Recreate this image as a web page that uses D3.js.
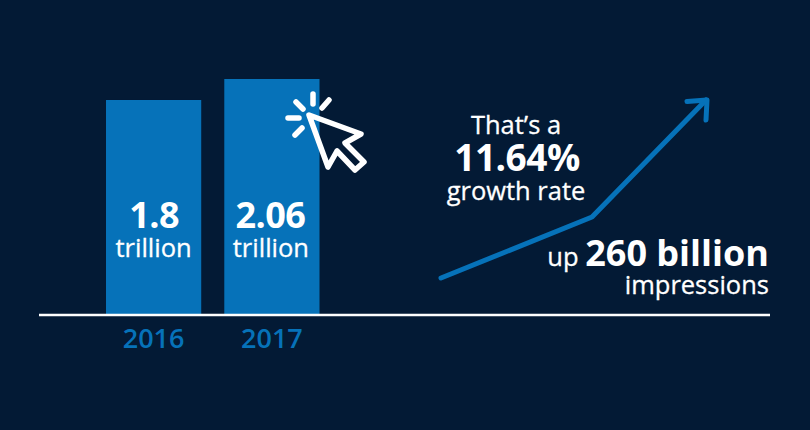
<!DOCTYPE html>
<html>
<head>
<meta charset="utf-8">
<script src="https://cdn.jsdelivr.net/npm/d3@7"></script>
<style>
  html, body { margin: 0; padding: 0; background: #031a35; }
  svg { display: block; }
  text { font-family: "Open Sans", sans-serif; fill: #fff; }
</style>
</head>
<body>
<div id="chart"></div>
<script>
// Data
const years = ['2016', '2017']
const impressions = [1.8, 2.06]
const barLabels = ['1.8', '2.06']
const barUnits = ['trillion', 'trillion']

// growth arrow (arbitrary units)
const trendSteps = [0, 151, 265]
const trendValues = [0, 61, 178]

function draw() {
    const dimension = { width: 810, height: 430 }
    const blue = '#0672b9'

    const svg = d3.select('#chart')
        .append('svg')
        .attr('width', dimension.width)
        .attr('height', dimension.height)

    // Set Scale
    const xScale = d3.scaleBand()
        .domain(years)
        .range([106, 319.5])
        .paddingInner(0.195)
        .paddingOuter(0)

    // the bars in the original don't start from zero, baseline sits around -0.85
    const yScale = d3.scaleLinear()
        .domain([-0.85, 2.06])
        .range([314, 79])

    const trendX = d3.scaleLinear()
        .domain([0, 265])
        .range([441, 706])

    const trendY = d3.scaleLinear()
        .domain([0, 178])
        .range([278, 100])

    // Bars
    svg.append('g')
        .selectAll('rect')
        .data(impressions)
        .join('rect')
        .attr('x', (d, i) => xScale(years[i]))
        .attr('y', d => yScale(d))
        .attr('width', xScale.bandwidth())
        .attr('height', d => yScale.range()[0] - yScale(d))
        .attr('fill', blue)

    // Bar labels
    const labels = svg.append('g').attr('text-anchor', 'middle')

    labels.selectAll('text.value')
        .data(barLabels)
        .join('text')
        .attr('class', 'value')
        .attr('x', (d, i) => xScale(years[i]) + xScale.bandwidth() / 2 + (i ? -1.5 : 0.5))
        .attr('y', 228)
        .style('font-size', '36px')
        .style('font-weight', 700)
        .style('letter-spacing', '-0.5px')
        .text(d => d)

    labels.selectAll('text.unit')
        .data(barUnits)
        .join('text')
        .attr('class', 'unit')
        .attr('x', (d, i) => xScale(years[i]) + xScale.bandwidth() / 2 + (i ? -1 : 0))
        .attr('y', 257)
        .style('font-size', '25.5px')
        .style('font-weight', 500)
        .style('stroke', '#fff')
        .style('stroke-width', 0.3)
        .text(d => d)

    // Axis
    const xAxis = d3.axisBottom(xScale).tickSize(0).tickPadding(14)
    const axisGroup = svg.append('g')
        .attr('transform', 'translate(0, 315)')
        .call(xAxis)
    axisGroup.select('.domain').remove()
    axisGroup.selectAll('text')
        .style('font-family', '"Open Sans", sans-serif')
        .style('font-size', '27px')
        .style('font-weight', 600)
        .style('fill', blue)

    svg.append('line')
        .attr('x1', 39)
        .attr('x2', 770)
        .attr('y1', 315)
        .attr('y2', 315)
        .attr('stroke', '#fff')
        .attr('stroke-width', 2.5)

    // Growth arrow
    const trendLine = d3.line()
        .x((d, i) => trendX(trendSteps[i]))
        .y(d => trendY(d))

    const arrow = svg.append('g')
        .attr('fill', 'none')
        .attr('stroke', blue)
        .attr('stroke-width', 5)
        .attr('stroke-linecap', 'round')
        .attr('stroke-linejoin', 'round')

    arrow.append('path').attr('d', trendLine(trendValues))
    arrow.append('path').attr('d', 'M687,101.500L707,100L706,120')

    // Cursor icon
    const icon = svg.append('g')
        .attr('fill', 'none')
        .attr('stroke', '#fff')
        .attr('stroke-width', 5.5)
        .attr('stroke-linecap', 'round')
        .attr('stroke-linejoin', 'round')

    icon.append('path')
        .attr('d', 'M309,115L361,134L345,143L364,162L355,170L337,151L328,167Z')

    const rays = [[313, 94, 313, 104], [322, 108, 329, 100], [296, 102, 303, 109], [288, 118, 299, 118], [295, 135, 302, 128]]
    icon.selectAll('line')
        .data(rays)
        .join('line')
        .attr('x1', d => d[0])
        .attr('y1', d => d[1])
        .attr('x2', d => d[2])
        .attr('y2', d => d[3])

    // Callout text
    const callout = svg.append('g').attr('text-anchor', 'middle')
    callout.append('text').attr('x', 516).attr('y', 134)
        .style('font-size', '25.5px').style('font-weight', 500).style('stroke', '#fff').style('stroke-width', 0.3).text('That’s a')
    callout.append('text').attr('x', 517).attr('y', 171)
        .style('font-size', '37px').style('font-weight', 700).style('letter-spacing', '-0.5px').text('11.64%')
    callout.append('text').attr('x', 516).attr('y', 200)
        .style('font-size', '25.5px').style('font-weight', 500).style('stroke', '#fff').style('stroke-width', 0.3).text('growth rate')

    const upText = svg.append('text')
        .attr('x', 769)
        .attr('y', 266)
        .attr('text-anchor', 'end')
    upText.append('tspan').style('font-size', '25.5px').style('font-weight', 500).style('stroke', '#fff').style('stroke-width', 0.3).text('up ')
    upText.append('tspan').style('font-size', '36px').style('font-weight', 700).text('260 billion')

    svg.append('text')
        .attr('x', 769)
        .attr('y', 294)
        .attr('text-anchor', 'end')
        .style('font-size', '25.5px')
        .style('font-weight', 500)
        .style('stroke', '#fff')
        .style('stroke-width', 0.3)
        .text('impressions')
}

draw()
</script>
</body>
</html>
